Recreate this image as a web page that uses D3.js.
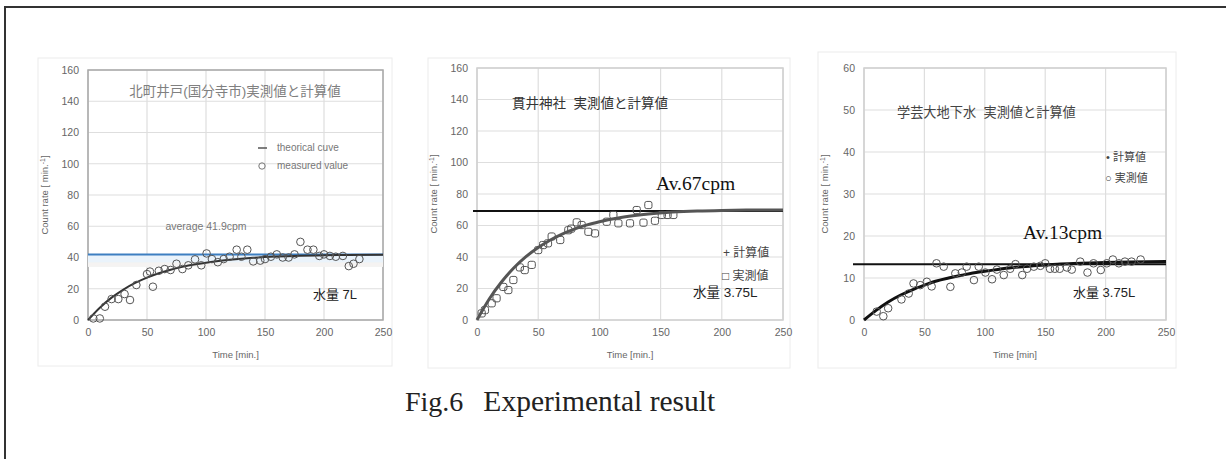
<!DOCTYPE html>
<html>
<head>
<meta charset="utf-8">
<script src="https://cdn.jsdelivr.net/npm/d3@7"></script>
<style>
  body { margin: 0; background: #fff; }
  svg text { font-family: "Liberation Sans", "Noto Sans CJK JP", sans-serif; }
</style>
</head>
<body>
<div id="fig"></div>
<script>
// tick values
var xTicks = [0, 50, 100, 150, 200, 250];
var yTicks160 = [0, 20, 40, 60, 80, 100, 120, 140, 160];
var yTicks60 = [0, 10, 20, 30, 40, 50, 60];

// panel 1 : 北町井戸
var curveT = [0, 10, 20, 30, 40, 50, 60, 70, 80, 90, 100, 120, 140, 160, 180, 200, 220, 250];
var curve1 = [0, 7.9, 14.3, 19.5, 23.7, 27.1, 29.9, 32.2, 34.0, 35.5, 36.7, 38.5, 39.8, 40.6, 41.1, 41.4, 41.6, 41.8];
var meas1T = [4.5, 10, 14.4, 20, 25.7, 31, 35.6, 41, 50, 52.5, 55, 60, 65, 70, 75, 80, 85, 90.7, 96, 100.5,
              105, 110, 115, 120, 126, 130, 135, 140, 146, 150, 155, 160, 165, 170, 175, 180, 186, 191,
              196, 200, 205, 210, 216, 221, 225, 230];
var meas1V = [1, 1, 8.5, 13.4, 13.4, 16.6, 12.8, 22.4, 29.4, 31, 21.3, 31.5, 32.6, 32, 36, 32.6, 35, 38.8, 35, 42.6,
              39, 37, 39, 40.5, 45, 40.5, 45, 37.5, 38, 39, 40.5, 42, 40, 40, 42, 50, 45, 45,
              41, 42, 41, 40.5, 41, 34.5, 36, 39];
var avg1 = 41.9;

// panel 2 : 貫井神社
var curve2 = [0, 13.3, 24.1, 33, 40.2, 46, 50.8, 54.7, 57.8, 60.4, 62.4, 65.4, 67.3, 68.5, 69.2, 69.6, 69.8, 69.9];
var meas2T = [3.8, 6.5, 12, 16, 21.5, 25.6, 29.7, 35, 39, 44.7, 50, 54, 58, 61, 68, 74.6, 77, 81.5, 85.5, 91, 96.4,
              106, 111.4, 115.5, 125, 130.5, 136, 140, 145.4, 151, 155.7, 160.4];
var meas2V = [4.2, 6.3, 10.6, 13.8, 21, 19, 25.4, 33.4, 31.7, 35, 44.4, 47.6, 48.7, 53, 50.8, 57, 58, 62, 60.3, 56, 55,
              62.4, 66.7, 61.4, 61.4, 69.8, 61.8, 73, 63, 66.7, 66.7, 66.7];
var avg2 = 69.2;

// panel 3 : 学芸大地下水
var curve3 = [0, 2.3, 4.3, 5.9, 7.2, 8.3, 9.3, 10.0, 10.6, 11.2, 11.6, 12.4, 12.9, 13.3, 13.5, 13.7, 13.8, 13.9];
var meas3T = [10.5, 16, 20, 31, 37, 41, 46.5, 52, 56, 60, 66, 71.5, 75.6, 81, 85, 91, 95, 100.5, 106, 110, 115.7,
              121, 125.4, 131, 135, 140.6, 146, 150, 154, 158, 162, 168, 172, 179, 185, 190, 196, 201, 206,
              211, 216, 221.5, 229];
var meas3V = [2, 0.9, 2.8, 4.9, 6.3, 8.7, 8.3, 9.1, 8, 13.5, 12.7, 7.9, 11.1, 11.3, 12.7, 9.5, 12.7, 11.3, 9.7, 12, 10.7,
              12.2, 13.3, 10.7, 12.2, 12.7, 12.9, 13.5, 12.2, 12.2, 12.2, 12.5, 12, 13.9, 11.3, 13.5, 11.9, 13.5, 14.4,
              13.5, 13.9, 13.9, 14.4];
var avg3 = 13.3;

var W = 1226, H = 459;
var svg = d3.select("#fig").append("svg")
    .attr("width", W).attr("height", H);

// page frame
svg.append("rect")
    .attr("x", 5).attr("y", 7).attr("width", W + 20).attr("height", H + 20)
    .attr("fill", "none").attr("stroke", "#333").attr("stroke-width", 2);

function zip(a, b) { return a.map(function(d, i) { return [d, b[i]]; }); }

function drawPanel(p) {
  var x = d3.scaleLinear().domain([0, 250]).range([p.left, p.right]);
  var y = d3.scaleLinear().domain([0, p.ymax]).range([p.bottom, p.top]);
  var g = svg.append("g");

  // faint chart area
  g.append("rect")
      .attr("x", p.box[0]).attr("y", p.box[1])
      .attr("width", p.box[2] - p.box[0]).attr("height", p.box[3] - p.box[1])
      .attr("fill", "none").attr("stroke", "#ececec").attr("stroke-width", 1);

  // grid
  g.selectAll(".hg").data(p.yTicks).enter().append("line")
      .attr("x1", p.left).attr("x2", p.right)
      .attr("y1", function(d) { return y(d); }).attr("y2", function(d) { return y(d); })
      .attr("stroke", "#dedede").attr("stroke-width", 1.2);
  g.selectAll(".vg").data(xTicks).enter().append("line")
      .attr("y1", p.top).attr("y2", p.bottom)
      .attr("x1", function(d) { return x(d); }).attr("x2", function(d) { return x(d); })
      .attr("stroke", "#dedede").attr("stroke-width", 1.2);
  g.append("rect")
      .attr("x", p.left).attr("y", p.top)
      .attr("width", p.right - p.left).attr("height", p.bottom - p.top)
      .attr("fill", "none").attr("stroke", p.frame).attr("stroke-width", 1.5);

  // axes
  var ya = d3.axisLeft(y).tickValues(p.yTicks).tickSize(0).tickPadding(9);
  var xa = d3.axisBottom(x).tickValues(xTicks).tickSize(0).tickPadding(9);
  g.append("g").attr("transform", "translate(" + p.left + ",0)").call(ya);
  g.append("g").attr("transform", "translate(0," + p.bottom + ")").call(xa);
  g.selectAll(".domain").remove();
  g.selectAll(".tick text").attr("fill", "#666").style("font-size", "10.5px");

  g.append("text")
      .attr("x", (p.left + p.right) / 2).attr("y", p.bottom + 38)
      .attr("text-anchor", "middle").attr("fill", "#666").style("font-size", "9.5px")
      .text(p.xLabel);
  g.append("text")
      .attr("transform", "translate(" + p.yLabelX + "," + (p.top + p.bottom) / 2 + ") rotate(-90)")
      .attr("text-anchor", "middle").attr("fill", "#666").style("font-size", "9.5px")
      .text("Count rate [ min.")
      .append("tspan").attr("dy", -3).style("font-size", "7px").text("-1")
      .select(function() { return this.parentNode; })
      .append("tspan").attr("dy", 3).text("]");

  if (p.band) {
    g.append("rect")
        .attr("x", p.left).attr("width", p.right - p.left)
        .attr("y", y(avg1)).attr("height", y(p.band) - y(avg1))
        .attr("fill", "#eaf3fb");
    g.append("rect")
        .attr("x", p.left).attr("width", p.right - p.left)
        .attr("y", y(avg1 - 5)).attr("height", y(p.band) - y(avg1 - 5))
        .attr("fill", "#fbf3ec").attr("opacity", 0.6);
  }

  // average line
  g.append("line")
      .attr("x1", x(0) - p.avgExt).attr("x2", p.right)
      .attr("y1", y(p.avg)).attr("y2", y(p.avg))
      .attr("stroke", p.avgColor).attr("stroke-width", 2);

  // theoretical curve
  var line = d3.line().curve(d3.curveMonotoneX)
      .x(function(d) { return x(d[0]); }).y(function(d) { return y(d[1]); });
  g.append("path").datum(zip(curveT, p.curve))
      .attr("d", line).attr("fill", "none")
      .attr("stroke", p.curveColor).attr("stroke-width", p.curveWidth);

  // measured values
  var pts = zip(p.mt, p.mv);
  if (p.square) {
    g.selectAll(".pt").data(pts).enter().append("rect")
        .attr("x", function(d) { return x(d[0]) - 3.6; })
        .attr("y", function(d) { return y(d[1]) - 3.6; })
        .attr("width", 7.2).attr("height", 7.2).attr("rx", 2)
        .attr("fill", "none").attr("stroke", "#555").attr("stroke-width", 1);
  } else {
    g.selectAll(".pt").data(pts).enter().append("circle")
        .attr("cx", function(d) { return x(d[0]); })
        .attr("cy", function(d) { return y(d[1]); })
        .attr("r", 3.8)
        .attr("fill", "none").attr("stroke", "#555").attr("stroke-width", 1);
  }

  // texts
  p.texts.forEach(function(t) {
    g.append("text")
        .attr("x", t[0]).attr("y", t[1])
        .attr("text-anchor", t[4] || "start")
        .attr("fill", t[3])
        .style("font-size", t[2] + "px")
        .style("font-family", t[5] || null)
        .attr("xml:space", "preserve")
        .text(t[6]);
  });
  return {x: x, y: y, g: g};
}

var serif = "'Liberation Serif', 'Times New Roman', serif";

var p1 = drawPanel({
  left: 88, right: 383, top: 70, bottom: 320, ymax: 160, yTicks: yTicks160,
  box: [38, 58, 392, 366], frame: "#a8a8a8",
  xLabel: "Time  [min.]", yLabelX: 48,
  curve: curve1, mt: meas1T, mv: meas1V,
  avg: avg1, avgColor: "#3d7fc1", avgExt: 0, band: 34,
  curveColor: "#333", curveWidth: 2,
  texts: [
    [235, 96, 13.5, "#808080", "middle", null, "北町井戸(国分寺市)実測値と計算値"],
    [277, 151, 10, "#777", "start", null, "theorical cuve"],
    [277, 169, 10, "#777", "start", null, "measured value"],
    [206, 230, 10.5, "#777", "middle", null, "average 41.9cpm"],
    [313, 299, 13, "#222", "start", null, "水量 7L"]
  ]
});
// legend marks for panel 1
p1.g.append("line").attr("x1", 258).attr("x2", 267).attr("y1", 148).attr("y2", 148)
    .attr("stroke", "#555").attr("stroke-width", 1.5);
p1.g.append("circle").attr("cx", 262).attr("cy", 166).attr("r", 3.2)
    .attr("fill", "none").attr("stroke", "#777");

var p2 = drawPanel({
  left: 477, right: 783, top: 68, bottom: 320, ymax: 160, yTicks: yTicks160,
  box: [428, 58, 790, 368], frame: "#d0d0d0",
  xLabel: "Time  [min.]", yLabelX: 437,
  curve: curve2, mt: meas2T, mv: meas2V, square: true,
  avg: avg2, avgColor: "#111", avgExt: 4,
  curveColor: "#555", curveWidth: 3,
  texts: [
    [512, 108, 13.5, "#333", "start", null, "貫井神社  実測値と計算値"],
    [656, 190, 19.5, "#111", "start", serif, "Av.67cpm"],
    [723, 257, 12, "#444", "start", null, "+ 計算値"],
    [722, 280, 12, "#444", "start", null, "□ 実測値"],
    [693, 297, 13.5, "#222", "start", null, "水量 3.75L"]
  ]
});

var p3 = drawPanel({
  left: 864, right: 1166, top: 68, bottom: 320, ymax: 60, yTicks: yTicks60,
  box: [818, 52, 1176, 368], frame: "#d0d0d0",
  xLabel: "Time  [min]", yLabelX: 828,
  curve: curve3, mt: meas3T, mv: meas3V,
  avg: avg3, avgColor: "#111", avgExt: 11,
  curveColor: "#111", curveWidth: 3,
  texts: [
    [897, 117, 13.2, "#444", "start", null, "学芸大地下水  実測値と計算値"],
    [1023, 239, 19.5, "#111", "start", serif, "Av.13cpm"],
    [1106, 161, 11, "#444", "start", null, "• 計算値"],
    [1105, 182, 11, "#444", "start", null, "○ 実測値"],
    [1073, 297, 13, "#222", "start", null, "水量 3.75L"]
  ]
});

// figure caption
var cap = svg.append("text")
    .attr("x", 405).attr("y", 411)
    .style("font-family", serif).style("font-size", "28px").attr("fill", "#222")
    .text("Fig.6");
cap.append("tspan").attr("dx", 20).style("font-size", "29.5px").text("Experimental result");
</script>
</body>
</html>
